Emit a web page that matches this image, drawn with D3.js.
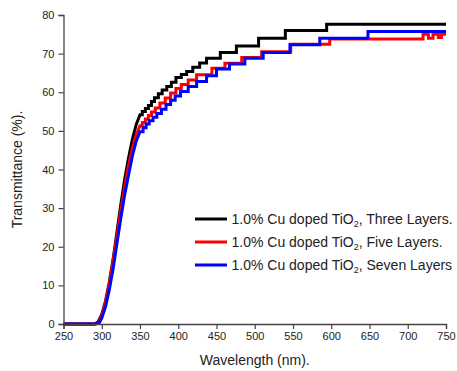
<!DOCTYPE html>
<html>
<head>
<meta charset="utf-8">
<script src="https://cdn.jsdelivr.net/npm/d3@7"></script>
<style>
  body { margin: 0; background: #fff; }
  text { font-family: "Liberation Sans", Arial, sans-serif; fill: #222; }
</style>
</head>
<body>
<svg id="chart" width="457" height="371"></svg>
<script>
// tick values
const xTicks = [250, 300, 350, 400, 450, 500, 550, 600, 650, 700, 750];
const yTicks = [0, 10, 20, 30, 40, 50, 60, 70, 80];

const seriesLabels = ['Three Layers.', 'Five Layers.', 'Seven Layers'];
const seriesColors = ['#000000', '#ff0000', '#0000ff'];

// smooth absorption edge [wavelength, T%]
const threeRise = [[250, 0], [290, 0], [295, 0.5], [300, 2.5], [305, 6], [310, 11], [315, 17],
  [320, 24], [325, 31], [330, 37.5], [335, 43], [340, 47.8], [345, 51.6], [350, 54.2]];
const fiveRise = [[250, 0], [291, 0], [296, 0.4], [300, 2.2], [305, 5.5], [310, 10.5], [315, 16.5],
  [320, 23], [325, 29.5], [330, 35.5], [335, 41], [340, 45.5], [345, 49], [350, 51.3]];
const sevenRise = [[250, 0], [292, 0], [297, 0.4], [300, 1.5], [305, 4.5], [310, 9], [315, 14.5],
  [320, 21], [325, 27.5], [330, 33.5], [335, 38.5], [340, 43.5], [345, 47.3], [350, 49.8]];

// quantised plateau: [wavelength where the step occurs, new T%]
const threeSteps = [[353, 55], [357, 55.8], [361, 56.6], [365, 57.6], [369, 58.6], [374, 59.6],
  [379, 60.6], [385, 61.5], [391, 62.6], [397, 63.8], [404, 64.6], [411, 65.4], [419, 66.5],
  [428, 67.6], [437, 68.8], [455, 70.3], [476, 72], [505, 74], [540, 76], [594, 77.6]];
const fiveSteps = [[353, 52.2], [357, 53.1], [361, 54], [365, 54.9], [370, 55.9], [376, 57.2],
  [383, 58.5], [390, 59.8], [397, 61], [404, 62], [413, 63.2], [424, 64.5], [444, 66.2],
  [461, 67.5], [483, 69], [509, 70.5], [547, 72.4], [598, 73.8], [720, 75], [727, 74],
  [733, 75], [740, 74.2], [744, 75]];
const sevenSteps = [[354, 50.8], [358, 51.8], [362, 52.6], [367, 53.5], [372, 54.5], [378, 55.6],
  [384, 56.8], [390, 57.9], [396, 59], [403, 60.2], [413, 61.5], [424, 62.8], [437, 64.3],
  [450, 66], [467, 67.3], [487, 68.8], [511, 70.3], [546, 72.3], [585, 74], [648, 75.7]];

const xEnd = 750;

const svg = d3.select('#chart');
const margin = { top: 15, right: 11, bottom: 47, left: 63.5 };
const width = 457 - margin.left - margin.right;
const height = 371 - margin.top - margin.bottom;

const x = d3.scaleLinear().domain([250, 750]).range([margin.left, margin.left + width]);
const y = d3.scaleLinear().domain([0, 80]).range([margin.top + height, margin.top]);

// join rise + steps into one polyline
function buildPoints(rise, steps) {
  const pts = rise.slice();
  let last = rise[rise.length - 1][1];
  steps.forEach(([w, t]) => {
    pts.push([w, last]);
    pts.push([w, t]);
    last = t;
  });
  pts.push([xEnd, last]);
  return pts;
}

const series = [
  buildPoints(threeRise, threeSteps),
  buildPoints(fiveRise, fiveSteps),
  buildPoints(sevenRise, sevenSteps)
];

const line = d3.line()
  .x(d => x(d[0]))
  .y(d => y(d[1]));

series.forEach((pts, i) => {
  svg.append('path')
    .datum(pts)
    .attr('fill', 'none')
    .attr('stroke', seriesColors[i])
    .attr('stroke-width', 3)
    .attr('stroke-linejoin', 'miter')
    .attr('d', line);
});

// axes
const axisColor = '#444';
const xAxis = svg.append('g')
  .attr('transform', `translate(0,${margin.top + height})`);
xAxis.call(d3.axisBottom(x).tickValues(d3.range(250, 751, 25)).tickSize(3).tickFormat(''));
xAxis.call(d3.axisBottom(x).tickValues(xTicks).tickSize(5).tickPadding(3).tickFormat(d3.format('d')));

const yAxis = svg.append('g')
  .attr('transform', `translate(${margin.left},0)`);
yAxis.call(d3.axisLeft(y).tickValues(d3.range(0, 81, 5)).tickSize(3).tickFormat(''));
yAxis.call(d3.axisLeft(y).tickValues(yTicks).tickSize(5).tickPadding(4).tickFormat(d3.format('d')));

svg.selectAll('.domain').attr('stroke', axisColor).attr('stroke-width', 1.3);
svg.selectAll('.tick line').attr('stroke', axisColor).attr('stroke-width', 1.2);
svg.selectAll('.tick text')
  .style('font-family', '"Liberation Sans", Arial, sans-serif')
  .style('font-size', '11px')
  .attr('fill', '#222');

// axis titles
svg.append('text')
  .attr('x', margin.left + width / 2)
  .attr('y', 365)
  .attr('text-anchor', 'middle')
  .style('font-size', '14px')
  .text('Wavelength (nm).');

svg.append('text')
  .attr('transform', `translate(22,${margin.top + height / 2}) rotate(-90)`)
  .attr('text-anchor', 'middle')
  .style('font-size', '14px')
  .text('Transmittance (%).');

// legend
const legend = svg.append('g').attr('transform', 'translate(195,219)');
seriesLabels.forEach((lab, i) => {
  const g = legend.append('g').attr('transform', `translate(0,${i * 23})`);
  g.append('line')
    .attr('x1', 0).attr('x2', 32)
    .attr('y1', 0).attr('y2', 0)
    .attr('stroke', seriesColors[i])
    .attr('stroke-width', 3);
  const t = g.append('text')
    .attr('x', 36.5)
    .attr('y', 5)
    .style('font-size', '14px');
  t.append('tspan').text('1.0% Cu doped TiO');
  t.append('tspan').attr('dy', 3).style('font-size', '9px').text('2');
  t.append('tspan').attr('dy', -3).text(', ' + lab);
});
</script>
</body>
</html>
